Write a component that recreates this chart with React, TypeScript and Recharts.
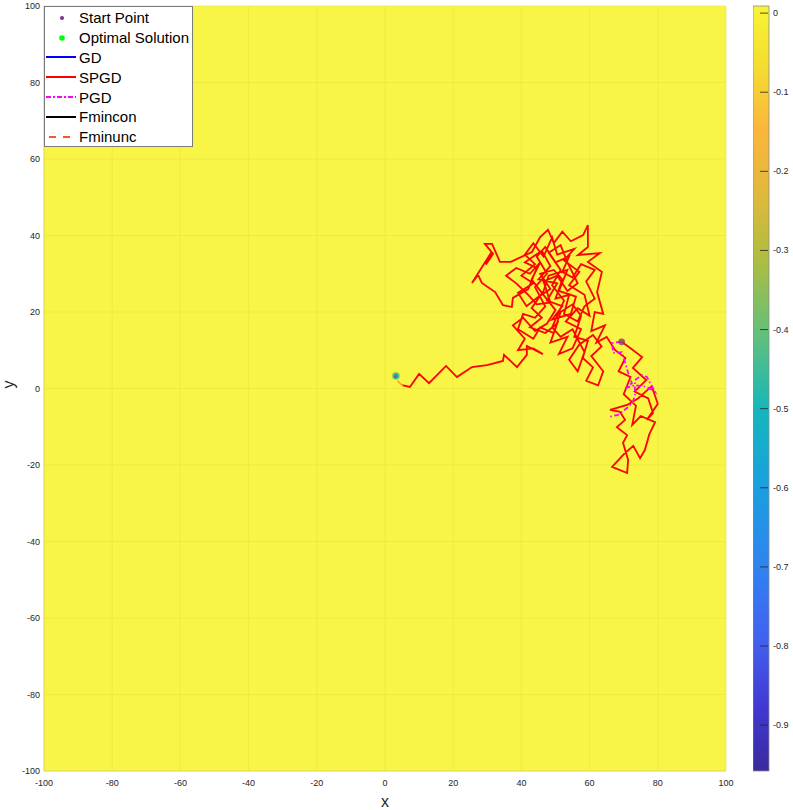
import React from "react"
import {
  ScatterChart,
  Scatter,
  XAxis,
  YAxis,
  CartesianGrid,
  Legend,
  ComposedChart,
  ReferenceArea,
} from "recharts"

// axis ticks
const xTicks = [-100, -80, -60, -40, -20, 0, 20, 40, 60, 80, 100]
const yTicks = [-100, -80, -60, -40, -20, 0, 20, 40, 60, 80, 100]
const colorTicks = [0, -0.1, -0.2, -0.3, -0.4, -0.5, -0.6, -0.7, -0.8, -0.9]
const colorRange = [-0.958, 0.009]

// points
const startPoint = [[69.4, 12.2]]
const optimalPoint = [[3.2, 3.3]]

// paths
const gdPath = [[69.4, 12.2], [69.4, 12.2]]
const fminconPath = [[3.2, 3.3], [3.2, 3.3]]
const fminuncPath = [[3.7, 2.0], [5.2, 0.7]]

const spgdPath = [
  [69.4, 12.2], [72.0, 10.5], [75.4, 8.2], [72.7, 5.4], [76.6, 2.2], [73.2, -0.8], [77.2, -2.6],
  [78.6, -6.4], [76.8, -8.2], [80.0, -4.0], [78.2, 0.6], [74.2, -2.6], [71.0, -4.3], [66.0, -5.6],
  [68.9, -6.1], [70.4, -8.2], [68.0, -10.1], [71.0, -12.2], [69.8, -14.2], [71.3, -18.7], [71.0, -22.1],
  [66.6, -20.5], [70.2, -17.0], [72.8, -15.0], [74.8, -18.2], [76.2, -16.1], [77.5, -12.0], [79.2, -8.8],
  [75.0, -7.2], [72.5, -9.5], [73.6, -4.5], [70.0, -1.5], [72.0, 3.0], [68.5, 4.5], [70.5, 8.0],
  [67.5, 10.0], [65.0, 13.5], [62.0, 12.0], [64.5, 16.5], [60.5, 15.0], [61.5, 20.0], [64.0, 19.5],
  [62.2, 25.2], [63.6, 30.5], [59.5, 33.1], [63.0, 35.4], [56.6, 34.9], [59.5, 37.0], [59.5, 42.7],
  [58.1, 40.1], [54.5, 38.5], [52.0, 41.0], [49.5, 38.0], [47.8, 41.5], [45.5, 39.6], [43.1, 35.7],
  [36.9, 33.1], [33.7, 33.1], [31.4, 37.8], [29.3, 37.8], [31.7, 35.2], [29.6, 32.4], [31.2, 35.6],
  [25.5, 27.6], [27.3, 29.7], [28.4, 27.6], [32.3, 25.2], [34.6, 21.8], [37.2, 21.3], [37.5, 23.7],
  [42.0, 26.0], [44.5, 31.5], [41.0, 33.0], [46.0, 36.0], [48.5, 32.0], [45.0, 28.5], [50.5, 27.5],
  [47.5, 23.0], [52.0, 21.5], [49.0, 18.0], [54.5, 19.5], [56.0, 24.0], [51.0, 25.5], [53.5, 31.0],
  [48.0, 29.5], [46.5, 25.5], [43.0, 21.0], [46.0, 18.5], [42.5, 16.0], [47.0, 14.5], [50.5, 17.0],
  [48.5, 12.0], [53.5, 13.5], [51.0, 9.0], [55.0, 10.5], [57.5, 15.5], [53.0, 17.5], [56.5, 21.0],
  [60.0, 19.0], [58.5, 24.5], [54.0, 27.0], [57.0, 30.5], [52.5, 33.5], [55.5, 36.5], [50.5, 35.0],
  [49.0, 39.5], [46.5, 34.5], [43.5, 38.0], [41.0, 35.0], [44.0, 32.5], [40.0, 29.5], [43.5, 27.5],
  [39.0, 25.0], [41.5, 21.5], [45.0, 24.0], [48.5, 26.0], [45.5, 30.0], [49.5, 31.0], [52.0, 28.5],
  [50.0, 23.5], [54.0, 24.5], [52.5, 19.5], [56.5, 17.5], [58.5, 21.5], [61.5, 23.5], [59.0, 28.0],
  [61.5, 31.0], [57.5, 32.5], [55.0, 29.0], [52.0, 30.5], [54.0, 34.5], [50.0, 33.0], [47.0, 37.0],
  [44.5, 34.5], [47.5, 30.0], [44.0, 26.5], [47.0, 21.5], [44.0, 18.5], [40.5, 19.5], [39.0, 15.5],
  [43.5, 13.0], [45.5, 16.0], [49.5, 14.5], [51.5, 20.0], [55.0, 22.0], [57.5, 19.0], [55.5, 13.5],
  [59.5, 12.5], [58.0, 8.0], [61.0, 5.5], [59.0, 2.0], [62.5, 0.8], [64.0, 4.5], [60.5, 8.5],
  [63.5, 11.0], [61.0, 14.0], [57.0, 11.5], [54.0, 7.5], [56.5, 4.5], [58.5, 9.5], [55.0, 15.5],
  [51.5, 13.5], [49.0, 16.0], [52.5, 23.0], [49.0, 27.0], [51.5, 31.0], [48.0, 35.5], [51.5, 37.5],
  [53.5, 33.0], [56.5, 27.5], [53.5, 25.5], [50.5, 29.5], [46.5, 28.0], [48.5, 22.5], [44.5, 22.0],
  [42.0, 24.5], [38.5, 27.5], [35.5, 29.5], [38.5, 31.5], [42.5, 30.0], [45.5, 33.0], [43.0, 28.5],
  [46.0, 25.0], [50.0, 20.5], [47.5, 17.0], [44.0, 15.0], [40.5, 18.5], [37.5, 16.5], [41.0, 13.0],
  [39.0, 10.0], [43.5, 10.5], [46.3, 9.0], [41.6, 11.1], [41.6, 8.8], [38.7, 5.6], [34.9, 8.8],
  [34.6, 7.2], [29.9, 6.1], [25.5, 5.6], [21.1, 3.0], [17.9, 5.9], [12.9, 1.4], [10.0, 3.8],
  [7.3, 0.4], [5.0, 0.9],
]

const pgdPath = [
  [69.2, 12.2], [66.6, 11.9], [66.9, 9.3], [69.5, 9.5], [71.3, 4.1], [72.4, 1.4], [70.4, 0.1],
  [73.3, 0.9], [76.8, 0.4], [79.2, -0.9], [76.8, 3.0], [75.4, 3.5], [73.3, 2.2], [73.3, -1.7],
  [72.7, -3.5], [71.0, -5.1], [68.3, -6.9], [65.4, -7.5],
]

const parula = [
  [0, "#3b2a9e"], [0.08, "#4137d0"], [0.17, "#4360f0"], [0.27, "#2f84f0"], [0.37, "#1a9fe0"],
  [0.47, "#14b6bd"], [0.57, "#62c07a"], [0.67, "#b0bd40"], [0.76, "#e3b83c"], [0.84, "#fbb63c"],
  [0.92, "#f5dc30"], [1, "#f7f436"],
]

const legendItems = [
  { name: "Start Point", kind: "dot", color: "#7e2f8e", r: 2 },
  { name: "Optimal Solution", kind: "dot", color: "#00ff00", r: 2.8 },
  { name: "GD", kind: "line", color: "#0000ff" },
  { name: "SPGD", kind: "line", color: "#ff0000" },
  { name: "PGD", kind: "line", color: "#ff00ff", dash: "5 2 2 2" },
  { name: "Fmincon", kind: "line", color: "#000000" },
  { name: "Fminunc", kind: "line", color: "#f05a28", dash: "7 7" },
]

const toPts = (p: number[][]) => p.map(([x, y]) => ({ x, y }))

const NoDot = () => <g />

const StartDot = (props: any) => (
  <circle cx={props.cx} cy={props.cy} r={3.4} fill="#8e3f5e" fillOpacity={0.8} />
)

// the well around the optimum, drawn in colormap colours
const WellDot = (props: any) => (
  <g>
    <circle cx={props.cx} cy={props.cy} r={4.2} fill="#a8d24c" fillOpacity={0.9} />
    <circle cx={props.cx} cy={props.cy} r={3} fill="#2bb7a6" />
    <circle cx={props.cx} cy={props.cy} r={1.6} fill="#1e8fd8" />
    <circle cx={props.cx - 0.8} cy={props.cy + 1} r={1} fill="#e8302a" />
  </g>
)

function LegendBox() {
  return (
    <div
      style={{
        width: 149,
        height: 141,
        boxSizing: "border-box",
        background: "#ffffff",
        border: "1px solid #7a7a7a",
        paddingTop: 1,
      }}
    >
      {legendItems.map((it) => (
        <div key={it.name} style={{ display: "flex", alignItems: "center", height: 19.8 }}>
          <svg width={34} height={12} style={{ flex: "none" }}>
            {it.kind === "dot" ? (
              <circle cx={17} cy={6} r={it.r} fill={it.color} />
            ) : (
              <line
                x1={it.dash === "7 7" ? 4 : 1}
                x2={it.dash === "7 7" ? 27 : 31}
                y1={6}
                y2={6}
                stroke={it.color}
                strokeWidth={2}
                strokeDasharray={it.dash}
              />
            )}
          </svg>
          <span style={{ fontSize: 15, color: "#000", whiteSpace: "nowrap" }}>{it.name}</span>
        </div>
      ))}
    </div>
  )
}

const ColorTick = (props: any) => {
  const { x, y, payload } = props
  return (
    <g>
      <line x1={x - 9} x2={x - 1} y1={y} y2={y} stroke="#262626" strokeWidth={0.8} />
      <text x={x + 4} y={y} dy={3} fontSize={9} fill="#262626">
        {String(payload.value)}
      </text>
    </g>
  )
}

export default function App() {
  const ink = "#262626"
  return (
    <div
      style={{
        position: "absolute",
        left: 0,
        top: 0,
        width: 793,
        height: 810,
        background: "#ffffff",
        fontFamily: "'Liberation Sans', Arial, sans-serif",
      }}
    >
      <ScatterChart width={793} height={810} margin={{ top: 6, right: 67, bottom: 0, left: 0 }}>
        <CartesianGrid fill="#f8f546" fillOpacity={1} stroke="#e8e43c" strokeWidth={0.6} />
        <XAxis
          type="number"
          dataKey="x"
          domain={[-100, 100]}
          ticks={xTicks}
          interval={0}
          height={39}
          tickSize={0}
          tickMargin={9}
          tickLine={false}
          axisLine={{ stroke: "#d2ce6a", strokeWidth: 0.6 }}
          tick={{ fontSize: 9, fill: ink }}
          allowDataOverflow
          label={{ value: "x", position: "insideBottom", offset: 3, fontSize: 16, fill: ink }}
        />
        <YAxis
          type="number"
          dataKey="y"
          domain={[-100, 100]}
          ticks={yTicks}
          interval={0}
          width={44}
          tickSize={0}
          tickMargin={4}
          tickLine={false}
          axisLine={{ stroke: "#d2ce6a", strokeWidth: 0.6 }}
          tick={{ fontSize: 9, fill: ink }}
          allowDataOverflow
          label={{
            content: (p: any) => {
              const vb = p.viewBox || { x: 0, y: 6, height: 765 }
              const cx = vb.x + 10
              const cy = vb.y + vb.height / 2 - 4
              return (
                <text
                  x={cx}
                  y={cy}
                  transform={`rotate(-90 ${cx} ${cy})`}
                  textAnchor="middle"
                  dominantBaseline="middle"
                  fontSize={16}
                  fill={ink}
                >
                  y
                </text>
              )
            },
          }}
        />
        <Legend
          layout="vertical"
          align="center"
          verticalAlign="middle"
          wrapperStyle={{ left: 44, top: 6, width: 149, height: 141 }}
          content={() => <LegendBox />}
        />
        <Scatter name="Optimal Solution" data={toPts(optimalPoint)} shape={WellDot} isAnimationActive={false} />
        <Scatter
          name="SPGD"
          data={toPts(spgdPath)}
          shape={NoDot}
          line={{ stroke: "#ff0000", strokeWidth: 1.8, strokeLinejoin: "miter" }}
          isAnimationActive={false}
        />
        <Scatter
          name="PGD"
          data={toPts(pgdPath)}
          shape={NoDot}
          line={{ stroke: "#ff00ff", strokeWidth: 1.8, strokeDasharray: "5 2.5 1.5 2.5" }}
          isAnimationActive={false}
        />
        <Scatter
          name="Fminunc"
          data={toPts(fminuncPath)}
          shape={NoDot}
          line={{ stroke: "#f5a623", strokeWidth: 1.6 }}
          isAnimationActive={false}
        />
        <Scatter
          name="GD"
          data={toPts(gdPath)}
          shape={NoDot}
          line={{ stroke: "#0000ff", strokeWidth: 1.5 }}
          isAnimationActive={false}
        />
        <Scatter
          name="Fmincon"
          data={toPts(fminconPath)}
          shape={NoDot}
          line={{ stroke: "#000000", strokeWidth: 1.5 }}
          isAnimationActive={false}
        />
        <Scatter name="Start Point" data={toPts(startPoint)} shape={StartDot} isAnimationActive={false} />
      </ScatterChart>

      <div style={{ position: "absolute", left: 753, top: 0 }}>
        <ComposedChart width={40} height={810} margin={{ top: 6, right: 0, bottom: 39, left: 0 }} data={[{ x: 0 }, { x: 1 }]}>
          <defs>
            <linearGradient id="parulaBar" x1="0" y1="1" x2="0" y2="0">
              {parula.map(([o, c]) => (
                <stop key={String(o)} offset={o as number} stopColor={c as string} />
              ))}
            </linearGradient>
          </defs>
          <XAxis type="number" dataKey="x" domain={[0, 1]} hide />
          <YAxis
            type="number"
            orientation="right"
            domain={colorRange}
            ticks={colorTicks}
            interval={0}
            width={24}
            tickSize={0}
            tickMargin={0}
            axisLine={false}
            tickLine={false}
            tick={<ColorTick />}
            allowDataOverflow
          />
          <ReferenceArea
            x1={0}
            x2={1}
            y1={colorRange[0]}
            y2={colorRange[1]}
            fill="url(#parulaBar)"
            fillOpacity={1}
            stroke="#8a8a8a"
            strokeWidth={0.8}
            ifOverflow="visible"
          />
        </ComposedChart>
      </div>
    </div>
  )
}
